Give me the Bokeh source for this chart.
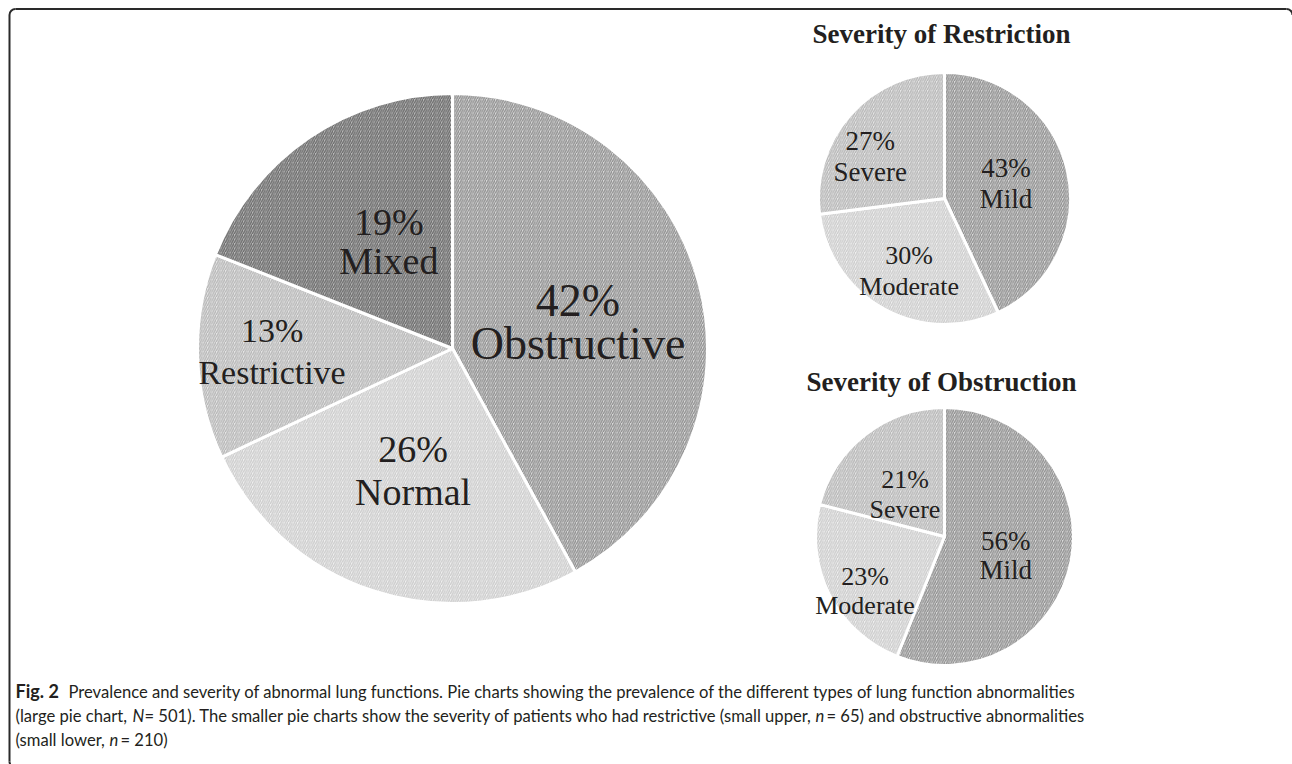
import math
from bokeh.plotting import figure
from bokeh.models import ColumnDataSource, Range1d
from bokeh.core.properties import value
from bokeh.embed import file_html
from bokeh.resources import INLINE

# ---------------- data ----------------
main_labels = ["Obstructive", "Normal", "Restrictive", "Mixed"]
main_pct = [42, 26, 13, 19]

restr_title = "Severity of Restriction"
restr_labels = ["Mild", "Moderate", "Severe"]
restr_pct = [43, 30, 27]

obstr_title = "Severity of Obstruction"
obstr_labels = ["Mild", "Moderate", "Severe"]
obstr_pct = [56, 23, 21]

cap_fig = "Fig. 2"
cap_l1 = ("Prevalence and severity of abnormal lung functions. Pie charts showing the "
          "prevalence of the different types of lung function abnormalities")
cap_l2a = "(large pie chart, "
cap_N = "N"
cap_l2b = "= 501). The smaller pie charts show the severity of patients who had restrictive (small upper, "
cap_n = "n"
cap_l2c = "= 65) and obstructive abnormalities"
cap_l3a = "(small lower, "
cap_l3b = "= 210)"

# ---------------- styles ----------------
W, H = 1292, 764
TXT = "#231f20"
SERIF = "Liberation Serif"
SANS = "Lato"
BASE_FIX = 0.36  # em offset so that the alphabetic baseline lands where wanted

def py(y):
    return H - y

def base(y, fs):
    """page baseline y -> data y, corrected for text placement"""
    return py(y - BASE_FIX * fs)

p = figure(width=W, height=H, x_range=Range1d(0, W), y_range=Range1d(0, H),
           output_backend="svg", toolbar_location=None,
           x_axis_type=None, y_axis_type=None, min_border=0)
p.grid.visible = False
p.outline_line_color = None
p.background_fill_color = "white"
p.border_fill_color = "white"

def draw_pie(labels, pct, cx, cy, r, sty, shifts, sizes, gaps):
    total = float(sum(pct))
    cum = 0.0
    starts, ends, mids = [], [], []
    for v in pct:
        a0 = cum / total
        cum += v
        a1 = cum / total
        starts.append(math.pi / 2 - 2 * math.pi * a0)
        ends.append(math.pi / 2 - 2 * math.pi * a1)
        mids.append(math.pi * (a0 + a1))
    n = len(pct)
    src = ColumnDataSource(dict(x=[cx] * n, y=[py(cy)] * n, start=starts, end=ends,
                                fill=[s[0] for s in sty], hatch=[s[1] for s in sty]))
    p.wedge(x="x", y="y", radius=r, start_angle="start", end_angle="end",
            direction="clock", fill_color="fill", hatch_color="hatch",
            hatch_pattern="/", hatch_scale=4.5, hatch_weight=1.3,
            line_color="white", line_width=3, source=src)
    for i, m in enumerate(mids):
        fs = sizes[i]
        gap = gaps[i]
        cap = 0.66 * fs
        bx = cx + 0.5 * r * math.sin(m) + shifts[i][0]
        by = cy - 0.5 * r * math.cos(m) + shifts[i][1]
        p.text(x=[bx, bx],
               y=[base(by - gap / 2 + cap / 2, fs), base(by + gap / 2 + cap / 2, fs)],
               text=[f"{pct[i]}%", labels[i]], text_align="center",
               text_baseline="alphabetic", text_font=value(SERIF),
               text_font_size=f"{fs}px", text_color=TXT)

# slice styles (fill, hatch line)
DARK = ("#bababa", "#6a6a6a")
MID = ("#dadada", "#8e8e8e")
LIGHT = ("#e6e6e6", "#b6b6b6")
LIGHTEST = ("#f0f0f0", "#cbcbcb")

# label block shifts relative to mid-radius point (page px)
draw_pie(main_labels, main_pct, 452, 348, 255, [MID, LIGHTEST, LIGHT, DARK],
         [(2, 7), (0, 2), (-53, 0), (8, 0)], [46, 38, 34, 38], [43, 43, 42, 39])
draw_pie(restr_labels, restr_pct, 944, 198, 126, [MID, LIGHTEST, LIGHT],
         [(0, 0), (-5, 18), (-27, 0)], [27, 26, 27], [31, 31, 31])
draw_pie(obstr_labels, obstr_pct, 944, 536, 129, [MID, LIGHTEST, LIGHT],
         [(-2, 8), (-22, 26), (0, 10)], [27, 26, 26], [29, 29, 30])

# small titles
p.text(x=[941, 941], y=[base(43, 27), base(391, 27)], text=[restr_title, obstr_title],
       text_align="center", text_baseline="alphabetic", text_font=value(SERIF),
       text_font_style="bold", text_font_size="27px", text_color=TXT)

# frame border (rounded rectangle; right and bottom edges fall outside the picture)
BC = "#2a2a2a"
L, T, R, B, RAD = 9, 8.5, 1292, 767, 6
p.line(x=[L, L], y=[py(B - RAD), py(T + RAD)], line_color=BC, line_width=2)
p.line(x=[L + RAD, R - RAD], y=[py(T), py(T)], line_color=BC, line_width=2)
p.arc(x=[L + RAD, R - RAD, L + RAD],
      y=[py(T + RAD), py(T + RAD), py(B - RAD)], radius=RAD,
      start_angle=[math.pi / 2, 0, math.pi],
      end_angle=[math.pi, math.pi / 2, 3 * math.pi / 2],
      line_color=BC, line_width=2)

# caption
CFS = 16.6
def cap_text(x, y, t, style="normal", fs=CFS):
    p.text(x=[x], y=[base(y, fs)], text=[t], text_align="left", text_baseline="alphabetic",
           text_font=value(SANS), text_font_size=f"{fs}px", text_font_style=style,
           text_color=TXT)

cap_text(15, 697, cap_fig, "bold", 18)
cap_text(68, 697, cap_l1)
cap_text(15, 721, cap_l2a)
cap_text(132, 721, cap_N, "italic")
cap_text(144, 721, cap_l2b)
cap_text(815, 721, cap_n, "italic")
cap_text(826, 721, cap_l2c)
cap_text(15, 745, cap_l3a)
cap_text(109, 745, cap_n, "italic")
cap_text(120, 745, cap_l3b)

open("out.html", "w").write(file_html(p, INLINE))
